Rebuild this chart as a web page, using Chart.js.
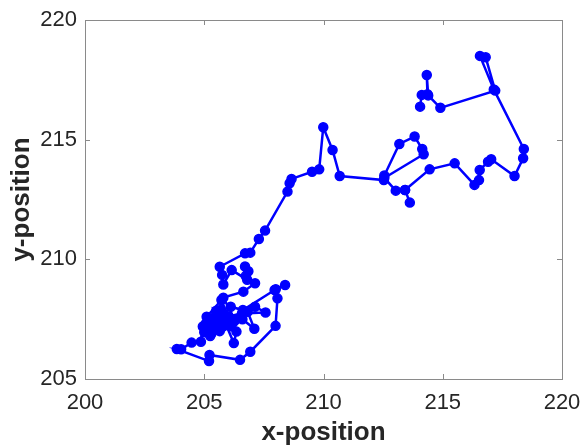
<!DOCTYPE html>
<html>
<head>
<meta charset="utf-8">
<script src="https://cdn.jsdelivr.net/npm/chart.js@4.4.0/dist/chart.umd.min.js"></script>
<style>
  html, body { margin: 0; padding: 0; background: #fff; }
  #wrap { width: 583px; height: 446px; }
</style>
</head>
<body>
<div id="wrap"><canvas id="walkChart" width="583" height="446"></canvas></div>
<script>
// tracked positions
let xPos = [205.60, 205.35, 205.05, 205.90, 205.50, 206.10, 205.25, 205.70, 206.35, 206.24,
            205.90, 205.40, 205.10, 205.72, 206.00, 206.82, 207.10, 206.60, 205.80, 205.30,
            205.45, 205.15, 205.60, 205.95, 205.35, 205.00, 205.50, 206.20, 205.65, 205.20,
            204.94, 204.86, 204.47, 204.03, 203.85, 205.20, 205.22, 206.50, 206.93, 207.99,
            208.07, 207.95, 208.39, 208.00, 206.62, 206.11, 205.55, 206.58, 207.57, 207.13,
            206.30, 205.80, 206.64, 207.13, 206.74, 206.85, 206.71, 206.80, 206.15, 205.80,
            205.75, 205.65, 206.71, 206.93, 207.29, 207.55, 208.49, 208.58, 208.66, 209.52,
            209.82, 209.99, 210.38, 210.68, 212.53, 212.55, 213.18, 213.82, 214.14, 214.20,
            212.55, 213.03, 213.42, 213.62, 213.42, 214.45, 215.50, 216.33, 216.52, 216.55,
            216.90, 217.03, 218.01, 218.37, 218.40, 217.14, 216.56, 216.80, 217.20, 214.90,
            214.39, 214.33, 214.36, 214.12, 214.05];
let yPos = [207.45, 207.05, 207.30, 207.65, 207.85, 207.20, 206.80, 207.90, 206.98, 206.50,
            207.30, 207.55, 207.60, 208.30, 207.60, 207.81, 207.10, 207.50, 207.20, 206.90,
            207.15, 207.45, 207.70, 207.40, 207.25, 206.95, 207.70, 207.35, 207.00, 207.35,
            207.19, 206.56, 206.52, 206.24, 206.25, 205.75, 206.00, 205.80, 206.14, 207.22,
            208.37, 208.72, 208.93, 208.75, 207.88, 208.02, 207.40, 207.74, 207.78, 208.02,
            207.45, 208.40, 208.65, 209.00, 209.30, 209.50, 209.70, 209.15, 209.55, 208.95,
            209.35, 209.69, 210.25, 210.28, 210.85, 211.20, 212.83, 213.18, 213.36, 213.66,
            213.76, 215.52, 214.57, 213.48, 213.31, 213.50, 214.82, 215.13, 214.61, 214.39,
            213.40, 212.87, 212.90, 212.37, 212.90, 213.76, 214.01, 213.11, 213.31, 213.73,
            214.08, 214.18, 213.48, 214.22, 214.61, 217.10, 218.50, 218.44, 217.05, 216.33,
            216.85, 217.70, 216.90, 216.87, 216.38];

let xTicks = [200, 205, 210, 215, 220];
let yTicks = [205, 210, 215, 220];

let points = [];
for (let i = 0; i < xPos.length; i++) {
    points.push({ x: xPos[i], y: yPos[i] });
}

// MATLAB-like box with inward tick marks
const boxPlugin = {
  id: 'box',
  afterDraw(chart) {
    const { ctx, chartArea: a, scales } = chart;
    ctx.save();
    ctx.strokeStyle = '#8a8a8a';
    ctx.lineWidth = 1;
    ctx.strokeRect(Math.round(a.left) + 0.5, Math.round(a.top) + 0.5,
                   Math.round(a.right - a.left), Math.round(a.bottom - a.top));
    ctx.beginPath();
    for (let t of xTicks) {
      let px = Math.round(scales.x.getPixelForValue(t)) + 0.5;
      ctx.moveTo(px, a.bottom); ctx.lineTo(px, a.bottom - 5);
      ctx.moveTo(px, a.top); ctx.lineTo(px, a.top + 5);
    }
    for (let t of yTicks) {
      let py = Math.round(scales.y.getPixelForValue(t)) + 0.5;
      ctx.moveTo(a.left, py); ctx.lineTo(a.left + 5, py);
      ctx.moveTo(a.right, py); ctx.lineTo(a.right - 5, py);
    }
    ctx.stroke();
    ctx.restore();
  }
};

const tickFont = { family: 'Liberation Sans, Arial, sans-serif', size: 22 };
const titleFont = { family: 'Liberation Sans, Arial, sans-serif', size: 26, weight: 'bold', lineHeight: 1 };

new Chart(document.getElementById('walkChart').getContext('2d'), {
  type: 'scatter',
  data: {
    datasets: [{
      data: points,
      showLine: true,
      borderColor: '#0000ff',
      backgroundColor: '#0000ff',
      borderWidth: 2.5,
      pointRadius: 4.5,
      pointBorderWidth: 1.5,
      pointStyle: 'circle'
    }]
  },
  options: {
    responsive: false,
    animation: false,
    layout: { padding: { left: 0, right: 21, top: 20, bottom: 0 } },
    plugins: { legend: { display: false }, tooltip: { enabled: false } },
    scales: {
      x: {
        type: 'linear',
        min: 200, max: 220,
        afterBuildTicks: s => { s.ticks = xTicks.map(v => ({ value: v })); },
        afterFit: s => { s.height = 67; s.paddingLeft = 0; s.paddingRight = 0; },
        grid: { drawOnChartArea: false, drawTicks: false },
        border: { display: false },
        ticks: { color: '#262626', font: tickFont, padding: 11, maxRotation: 0 },
        title: { display: true, text: 'x-position', color: '#262626', font: titleFont,
                 padding: { top: 0, bottom: 0 } }
      },
      y: {
        type: 'linear',
        min: 205, max: 220,
        afterBuildTicks: s => { s.ticks = yTicks.map(v => ({ value: v })); },
        afterFit: s => { s.width = 85; s.paddingTop = 0; s.paddingBottom = 0; },
        grid: { drawOnChartArea: false, drawTicks: false },
        border: { display: false },
        ticks: { color: '#262626', font: tickFont, padding: 8 },
        title: { display: true, text: 'y-position', color: '#262626', font: titleFont,
                 padding: { top: 9, bottom: 0 } }
      }
    }
  },
  plugins: [boxPlugin]
});
</script>
</body>
</html>
